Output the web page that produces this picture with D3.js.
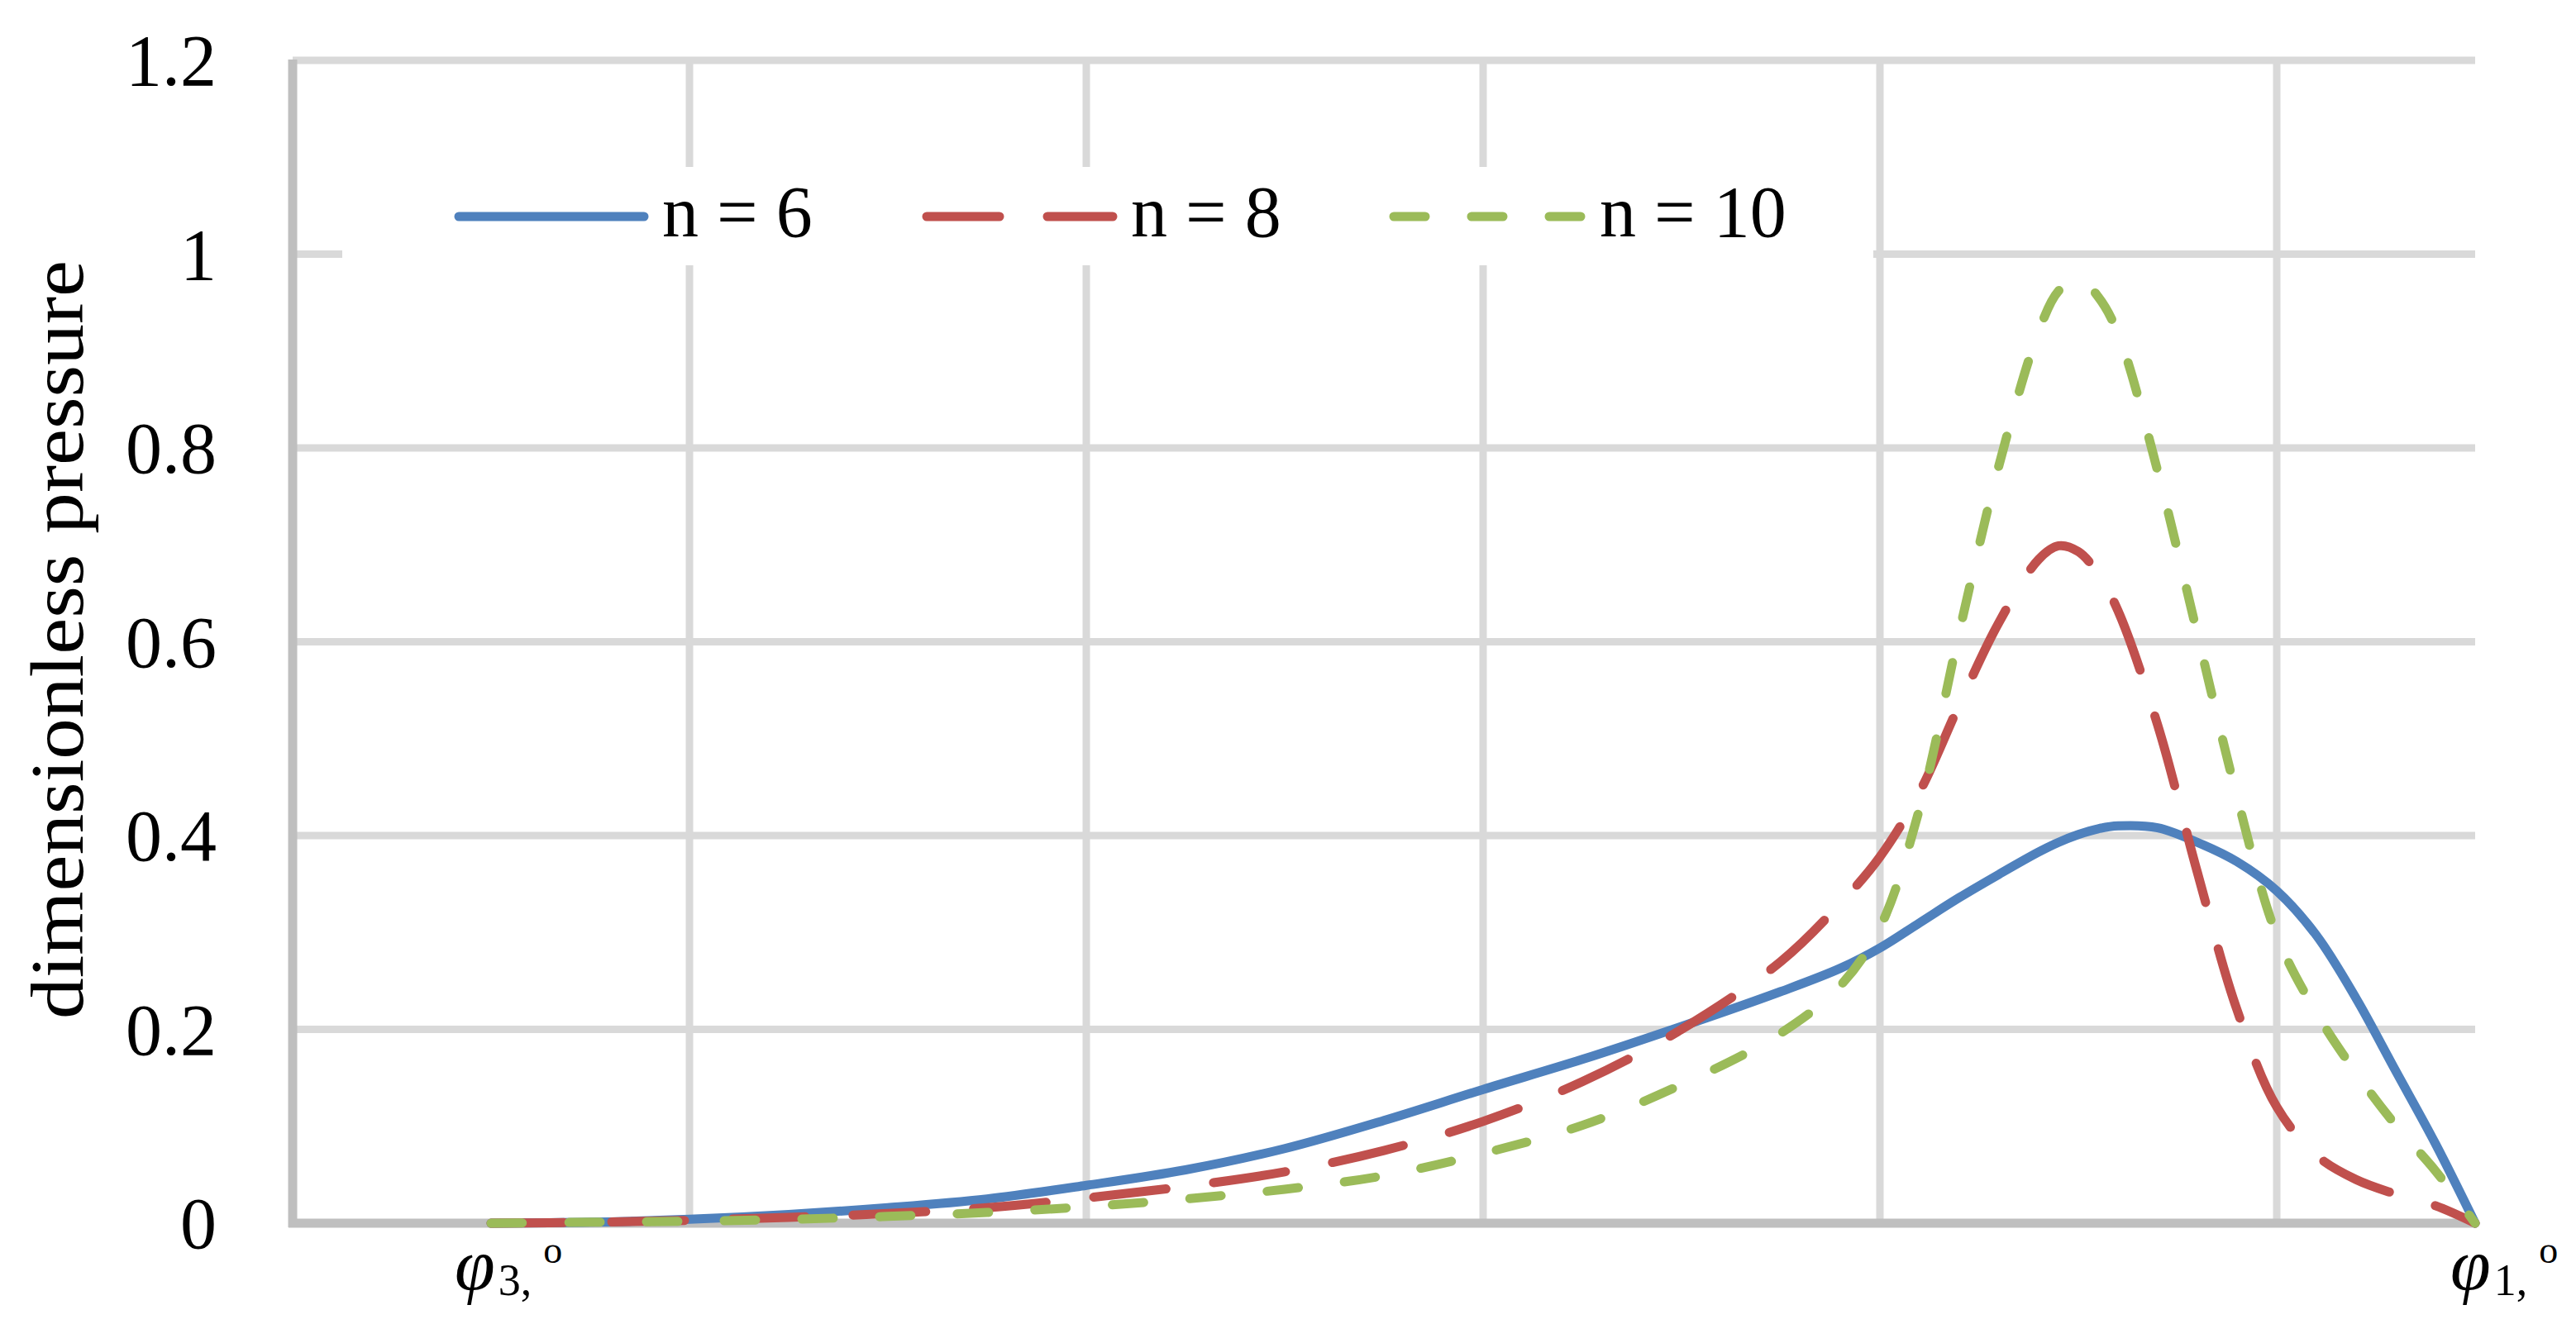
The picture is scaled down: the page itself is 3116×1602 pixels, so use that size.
<!DOCTYPE html>
<html>
<head>
<meta charset="utf-8">
<script src="https://cdn.jsdelivr.net/npm/d3@7"></script>
<style>
  html, body { margin: 0; padding: 0; background: #ffffff; }
  svg { display: block; }
  text { font-family: "Liberation Serif", "Times New Roman", serif; fill: #000; }
</style>
</head>
<body>
<svg id="chart" width="3116" height="1602"></svg>
<script>
// ---- data ----
const xValues = [0.5, 0.75, 1.0, 1.25, 1.5, 1.75, 2.0, 2.25, 2.5, 2.75, 3.0, 3.25, 3.5, 3.75, 3.9, 4.0, 4.1, 4.2, 4.3, 4.4, 4.45, 4.5, 4.55, 4.6, 4.7, 4.8, 4.9, 5.0, 5.1, 5.2, 5.3, 5.4, 5.5];
const seriesN6 = [0, 0.001, 0.004, 0.009, 0.016, 0.025, 0.039, 0.055, 0.077, 0.106, 0.138, 0.169, 0.203, 0.239, 0.263, 0.284, 0.310, 0.336, 0.360, 0.383, 0.393, 0.401, 0.407, 0.410, 0.408, 0.393, 0.373, 0.343, 0.297, 0.232, 0.157, 0.082, 0];
const seriesN8 = [0, 0.001, 0.003, 0.006, 0.010, 0.016, 0.026, 0.038, 0.053, 0.075, 0.105, 0.146, 0.200, 0.270, 0.330, 0.378, 0.445, 0.535, 0.620, 0.685, 0.699, 0.693, 0.670, 0.632, 0.514, 0.362, 0.220, 0.120, 0.070, 0.045, 0.030, 0.018, 0];
const seriesN10 = [0, 0.001, 0.002, 0.004, 0.007, 0.011, 0.017, 0.025, 0.035, 0.049, 0.072, 0.101, 0.143, 0.196, 0.245, 0.305, 0.428, 0.610, 0.782, 0.920, 0.962, 0.975, 0.956, 0.918, 0.776, 0.608, 0.440, 0.297, 0.217, 0.155, 0.101, 0.054, 0];
const seriesNames = ["n = 6", "n = 8", "n = 10"];
const yTicks = [0, 0.2, 0.4, 0.6, 0.8, 1.0, 1.2];
const yTickLabels = ["0", "0.2", "0.4", "0.6", "0.8", "1", "1.2"];
const xGridValues = [1, 2, 3, 4, 5];
const xLabelValues = [0.5, 5.5];
const xLabelSubs = ["3", "1"];
const yTitle = "dimensionless pressure";

// ---- layout / style ----
const svg = d3.select("#chart");
const x = d3.scaleLinear().domain([0, 5.5]).range([354, 2994]);
const y = d3.scaleLinear().domain([0, 1.2]).range([1480, 73]);
const colors = ["#4F81BD", "#C0504D", "#9BBB59"];
const dashes = [null, "88 58", "38 56"];
const lw = 11;
const fontSize = 88;

// gridlines
const grid = svg.append("g");
grid.selectAll("line.h").data(yTicks.filter(d => d > 0)).enter().append("line")
  .attr("x1", x(0)).attr("x2", x(5.5))
  .attr("y1", d => y(d)).attr("y2", d => y(d))
  .attr("stroke", "#D9D9D9").attr("stroke-width", 9);
grid.selectAll("line.v").data(xGridValues).enter().append("line")
  .attr("x1", d => x(d)).attr("x2", d => x(d))
  .attr("y1", y(0)).attr("y2", y(1.2))
  .attr("stroke", "#D9D9D9").attr("stroke-width", 9);

// legend background (hides gridlines)
svg.append("rect").attr("x", 414).attr("y", 202).attr("width", 1852).attr("height", 119).attr("fill", "#ffffff");

// axes lines
svg.append("line").attr("x1", x(0)).attr("x2", x(0)).attr("y1", y(1.2) - 1).attr("y2", y(0) + 5)
  .attr("stroke", "#BFBFBF").attr("stroke-width", 11);
svg.append("line").attr("x1", x(0) - 5).attr("x2", x(5.5)).attr("y1", y(0)).attr("y2", y(0))
  .attr("stroke", "#BFBFBF").attr("stroke-width", 11);

// y tick labels
svg.append("g").selectAll("text").data(yTicks).enter().append("text")
  .attr("x", 262).attr("y", d => y(d) + 30)
  .attr("text-anchor", "end").attr("font-size", fontSize)
  .text((d, i) => yTickLabels[i]);

// y axis title
svg.append("text")
  .attr("transform", "translate(100,774) rotate(-90)")
  .attr("text-anchor", "middle").attr("font-size", 92)
  .attr("textLength", 918).attr("lengthAdjust", "spacingAndGlyphs")
  .text(yTitle);

// x labels: φ3, o and φ1, o
const xLabelOffsets = [-44, -30];
xLabelValues.forEach((v, i) => {
  const t = svg.append("text").attr("x", x(v) + xLabelOffsets[i]).attr("y", 1560).attr("font-size", fontSize);
  t.append("tspan").attr("font-style", "italic").text("\u03C6");
  t.append("tspan").attr("font-size", 54).attr("dy", 7).attr("dx", 4).text(xLabelSubs[i] + ",");
  t.append("tspan").attr("font-size", 46).attr("dy", -39).attr("dx", 14).text("o");
});

// series
const series = [seriesN6, seriesN8, seriesN10];
const line = d3.line().x(d => x(d[0])).y(d => y(d[1])).curve(d3.curveCatmullRom.alpha(0.5));
series.forEach((vals, i) => {
  const pts = xValues.map((xv, j) => [xv, vals[j]]);
  svg.append("path").datum(pts)
    .attr("d", line)
    .attr("fill", "none")
    .attr("stroke", colors[i])
    .attr("stroke-width", lw)
    .attr("stroke-linecap", "round")
    .attr("stroke-linejoin", "round")
    .attr("stroke-dasharray", dashes[i]);
});

// legend
const legendItems = [
  {x1: 555, x2: 779, tx: 801},
  {x1: 1121, x2: 1346, tx: 1368},
  {x1: 1686, x2: 1915, tx: 1935}
];
legendItems.forEach((it, i) => {
  svg.append("line").attr("x1", it.x1).attr("x2", it.x2).attr("y1", 262).attr("y2", 262)
    .attr("stroke", colors[i]).attr("stroke-width", lw)
    .attr("stroke-linecap", "round")
    .attr("stroke-dasharray", dashes[i]);
  svg.append("text").attr("x", it.tx).attr("y", 286).attr("font-size", fontSize).text(seriesNames[i]);
});
</script>
</body>
</html>
